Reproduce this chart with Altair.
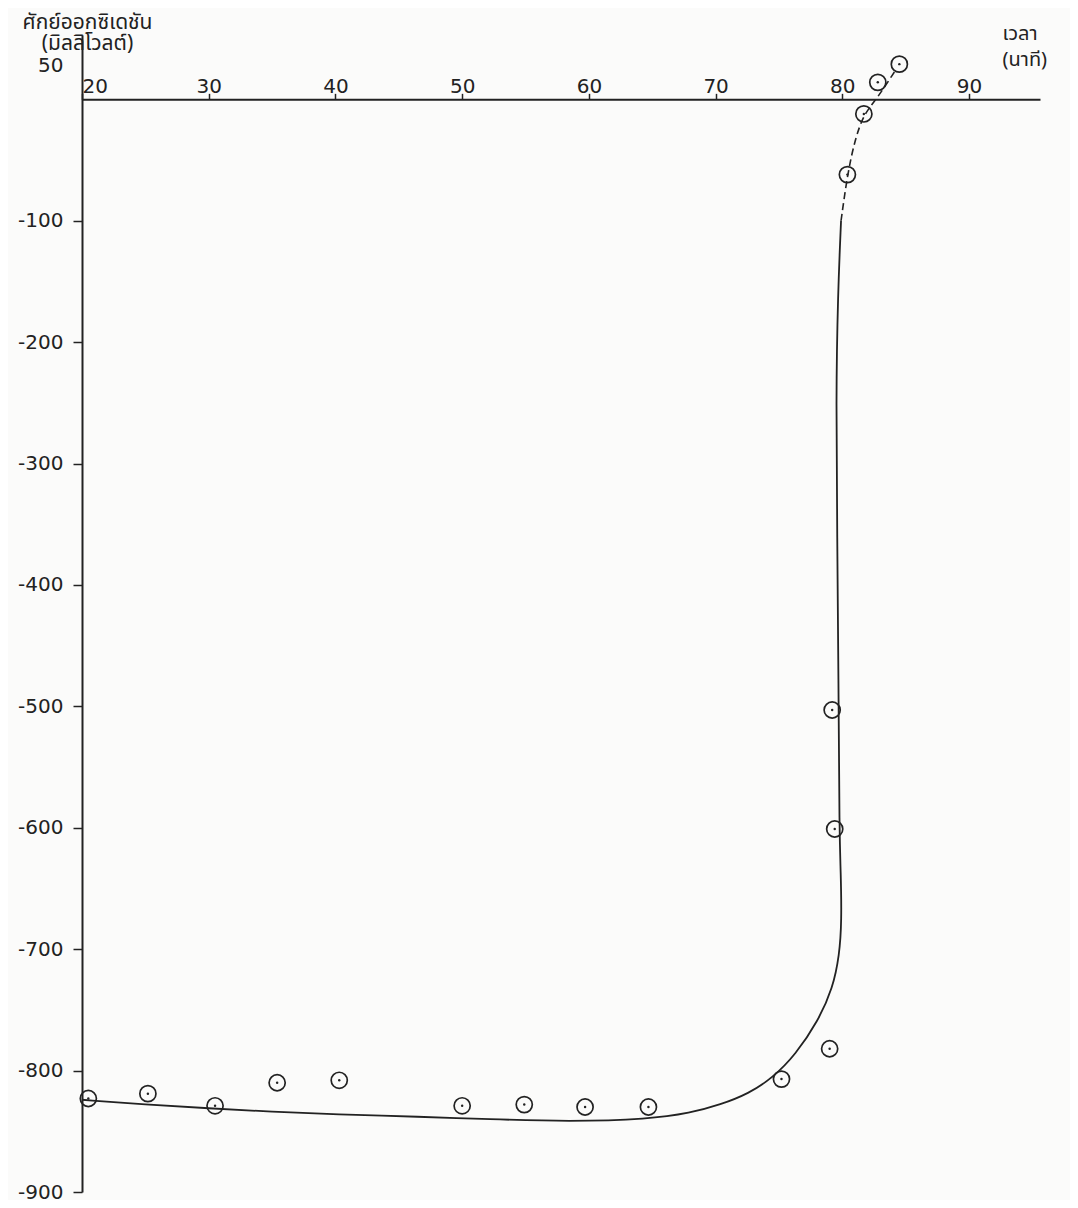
import altair as alt
import pandas as pd

# Measured points (time in minutes, oxidation potential in mV)
time_min = [20.5, 25.2, 30.5, 35.4, 40.3, 50.0, 54.9, 59.7, 64.7, 75.2, 79.0, 79.2, 79.4, 80.4, 81.7, 82.8, 84.5]
potential_mv = [-823, -819, -829, -810, -808, -829, -828, -830, -830, -807, -782, -503, -601, -62, -12, 14, 29]

# Hand-drawn fitted curve (solid part)
curve_time = [20.0, 25.0, 30.0, 35.0, 40.0, 46.7, 52.0, 58.5, 64.7, 68.0, 70.4, 72.6, 74.5, 76.3, 78.1,
              79.25, 79.77, 79.95, 79.88, 79.77, 79.7, 79.6, 79.5, 79.65, 79.9]
curve_mv = [-824, -828, -831, -834, -836, -838, -840, -842, -840, -835, -828, -819, -806, -787, -759,
            -732, -705, -677, -636, -608, -480, -360, -246, -160, -100]

# Dashed continuation of the curve
dash_time = [79.9, 80.4, 81.0, 81.7, 82.7, 84.2]
dash_mv = [-100, -62, -33, -12, 0, 24]

x_ticks = [20, 30, 40, 50, 60, 70, 80, 90]
y_ticks = [50, -100, -200, -300, -400, -500, -600, -700, -800, -900]

x_title = ["เวลา", "(นาที)"]
y_title = ["ศักย์ออกซิเดชัน", "(มิลลิโวลต์)"]

X_DOMAIN = [20, 95.6]
Y_DOMAIN = [-900, 53]
W = 958
H = 1157
axis_shift = H * Y_DOMAIN[1] / (Y_DOMAIN[1] - Y_DOMAIN[0])

INK = "#222222"
NUM_FONT = "DejaVu Sans"
THAI_FONT = "Noto Sans Thai, Loma, Garuda, Norasi, Noto Sans, DejaVu Sans, sans-serif"

pts = pd.DataFrame({"t": time_min, "mv": potential_mv})
curve = pd.DataFrame({"t": curve_time, "mv": curve_mv, "i": list(range(len(curve_time)))})
dash = pd.DataFrame({"t": dash_time, "mv": dash_mv, "i": list(range(len(dash_time)))})

x_axis = alt.Axis(
    orient="top", offset=-axis_shift, values=x_ticks, grid=False,
    domainColor=INK, domainWidth=2, tickColor=INK, tickWidth=1.5, tickSize=6,
    labelFont=NUM_FONT, labelFontSize=20, labelColor=INK, labelPadding=-3,
    labelFlush=False, labelOverlap=False, labelBound=False,
    labelAlign={"condition": {"test": "datum.value == 20", "value": "left"}, "value": "center"},
    title=x_title, titleFont=THAI_FONT, titleFontSize=20, titleFontWeight="normal",
    titleColor=INK, titleAngle=0, titleAlign="left", titleBaseline="alphabetic",
    titleX=920, titleY=-60, titleLineHeight=26,
)

y_axis = alt.Axis(
    orient="left", values=y_ticks, grid=False,
    domainColor=INK, domainWidth=2, tickColor=INK, tickWidth=1.5, tickSize=9,
    tickOpacity={"condition": {"test": "datum.value == 50", "value": 0}, "value": 1},
    labelFont=NUM_FONT, labelFontSize=20, labelColor=INK, labelPadding=10,
    labelFlush=False, labelOverlap=False, labelBound=False,
    labelOffset={"condition": {"test": "datum.value == 50", "value": 27}, "value": 0},
    labelExpr="datum.value < 0 ? '-' + abs(datum.value) : '' + datum.value",
    title=y_title, titleFont=THAI_FONT, titleFontSize=21, titleFontWeight="normal",
    titleColor=INK, titleAngle=0, titleAlign="center", titleBaseline="alphabetic",
    titleX=5, titleY=-7, titleLineHeight=21,
)

x_enc = alt.X("t:Q", scale=alt.Scale(domain=X_DOMAIN, nice=False, zero=False), axis=x_axis)
y_enc = alt.Y("mv:Q", scale=alt.Scale(domain=Y_DOMAIN, nice=False, zero=False), axis=y_axis)

solid_line = alt.Chart(curve).mark_line(
    interpolate="basis", color=INK, strokeWidth=1.8
).encode(x=x_enc, y=y_enc, order=alt.Order("i:Q"))

dashed_line = alt.Chart(dash).mark_line(
    interpolate="basis", color=INK, strokeWidth=1.6, strokeDash=[7, 4]
).encode(x=x_enc, y=y_enc, order=alt.Order("i:Q"))

rings = alt.Chart(pts).mark_point(
    shape="circle", filled=False, size=260, color=INK, strokeWidth=1.7, opacity=1
).encode(x=x_enc, y=y_enc)

dots = alt.Chart(pts).mark_point(
    shape="circle", filled=True, size=6, color=INK, opacity=1
).encode(x=x_enc, y=y_enc)

chart = alt.layer(solid_line, dashed_line, rings, dots).properties(
    width=W, height=H,
    padding={"left": 74, "top": 27, "right": 30, "bottom": 8},
    autosize=alt.AutoSizeParams(type="none"),
).configure(background="#fbfbfa").configure_view(stroke=None)

chart.save("out.html", embed_options={"renderer": "svg", "actions": False})
